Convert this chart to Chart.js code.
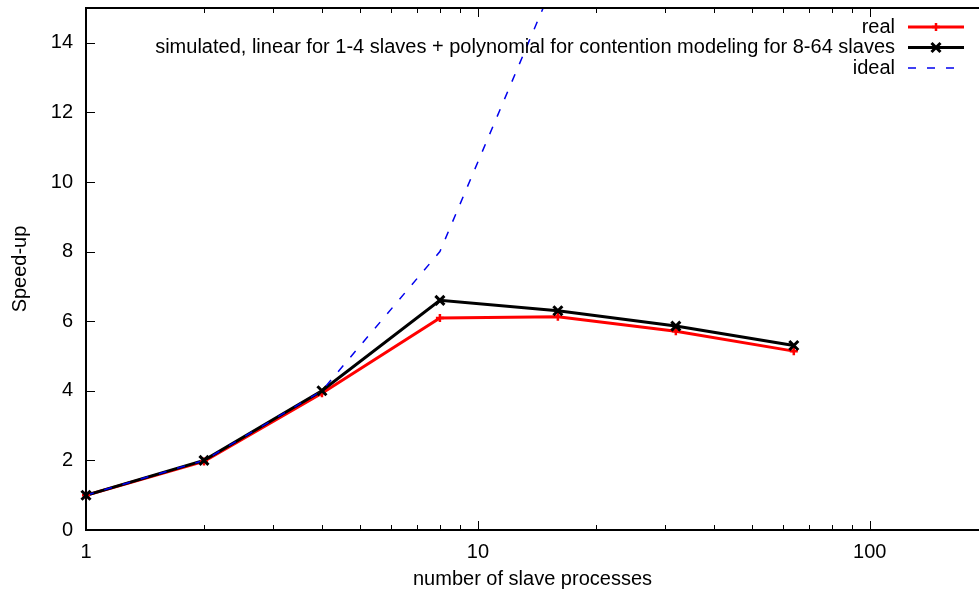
<!DOCTYPE html>
<html>
<head>
<meta charset="utf-8">
<script src="https://cdn.jsdelivr.net/npm/chart.js@4/dist/chart.umd.min.js"></script>
<style>
  html, body { margin: 0; padding: 0; background: #fff; }
  #wrap { width: 979px; height: 591px; }
</style>
</head>
<body>
<div id="wrap"><canvas id="c"></canvas></div>
<script>
// speed-up vs. number of slave processes (log x)
const slaves = [1, 2, 4, 8, 16, 32, 64];
const realSpeedup = [1, 1.97, 3.93, 6.09, 6.13, 5.71, 5.14];
const simSpeedup = [1, 2.0, 4.0, 6.6, 6.3, 5.86, 5.3];
const idealSpeedup = [1, 2, 4, 8, 16, 32, 64];
const yTicks = [0, 2, 4, 6, 8, 10, 12, 14];
const xTicks = [1, 10, 100];

const FONT = "'Liberation Sans', Arial, Helvetica, sans-serif";
const FS = 20;
const pts = (ys) => slaves.map((x, i) => ({ x, y: ys[i] }));

const legendItems = [
  { label: "real", color: "#ff0000", width: 3, dash: [], marker: "plus" },
  { label: "simulated, linear for 1-4 slaves + polynomial for contention modeling for 8-64 slaves", color: "#000000", width: 3, dash: [], marker: "x" },
  { label: "ideal", color: "#0000ee", width: 1.5, dash: [8, 11], marker: null },
];

function drawMarker(ctx, kind, x, y, color) {
  ctx.save();
  ctx.strokeStyle = color;
  ctx.setLineDash([]);
  if (kind === "plus") {
    ctx.lineWidth = 2.5;
    ctx.beginPath();
    ctx.moveTo(x - 4, y); ctx.lineTo(x + 4, y);
    ctx.moveTo(x, y - 4); ctx.lineTo(x, y + 4);
    ctx.stroke();
  } else if (kind === "x") {
    ctx.lineWidth = 3;
    ctx.beginPath();
    ctx.moveTo(x - 4.5, y - 4.5); ctx.lineTo(x + 4.5, y + 4.5);
    ctx.moveTo(x + 4.5, y - 4.5); ctx.lineTo(x - 4.5, y + 4.5);
    ctx.stroke();
  }
  ctx.restore();
}

// gnuplot-style frame: border, inward ticks, key in top right
const frame = {
  id: "frame",
  afterDraw(chart) {
    const { ctx, chartArea: a, scales } = chart;
    const xs = scales.x, ys = scales.y;
    ctx.save();
    ctx.strokeStyle = "#000";
    ctx.lineWidth = 2;
    ctx.beginPath();
    ctx.moveTo(a.right + 5, a.top); ctx.lineTo(a.left, a.top);
    ctx.lineTo(a.left, a.bottom); ctx.lineTo(a.right + 5, a.bottom);
    ctx.stroke();

    ctx.lineWidth = 1;
    ctx.beginPath();
    yTicks.forEach((v) => {
      const py = Math.round(ys.getPixelForValue(v)) + 0.5;
      ctx.moveTo(a.left, py); ctx.lineTo(a.left + 9, py);
    });
    for (let dec = 1; dec <= 100; dec *= 10) {
      for (let m = 1; m <= 9; m++) {
        const v = dec * m;
        if (v > xs.max) break;
        const px = Math.round(xs.getPixelForValue(v)) + 0.5;
        const len = m === 1 ? 9 : 5;
        ctx.moveTo(px, a.bottom); ctx.lineTo(px, a.bottom - len);
        ctx.moveTo(px, a.top); ctx.lineTo(px, a.top + len);
      }
    }
    ctx.stroke();

    // key
    ctx.font = FS + "px " + FONT;
    ctx.textAlign = "right";
    ctx.textBaseline = "middle";
    legendItems.forEach((it, i) => {
      const y = 27 + i * 20.5;
      ctx.fillStyle = "#000";
      ctx.fillText(it.label, 895, y);
      ctx.strokeStyle = it.color;
      ctx.lineWidth = it.width;
      ctx.setLineDash(it.dash);
      ctx.beginPath();
      ctx.moveTo(908, y); ctx.lineTo(964, y);
      ctx.stroke();
      ctx.setLineDash([]);
      if (it.marker) drawMarker(ctx, it.marker, 936, y, it.color);
    });
    ctx.restore();
  },
};

// point markers drawn on top of the lines
const markers = {
  id: "markers",
  afterDatasetsDraw(chart) {
    const { ctx, chartArea: a } = chart;
    ctx.save();
    ctx.beginPath();
    ctx.rect(a.left - 6, a.top, a.right - a.left + 12, a.bottom - a.top + 6);
    ctx.clip();
    [[0, "plus", "#ff0000"], [1, "x", "#000000"]].forEach(([di, kind, color]) => {
      chart.getDatasetMeta(di).data.forEach((p) => drawMarker(ctx, kind, p.x, p.y, color));
    });
    ctx.restore();
  },
};

new Chart(document.getElementById("c"), {
  type: "line",
  data: {
    datasets: [
      { label: "real", data: pts(realSpeedup), borderColor: "#ff0000", borderWidth: 3, pointRadius: 0, order: 2 },
      { label: "simulated", data: pts(simSpeedup), borderColor: "#000000", borderWidth: 3, pointRadius: 0, order: 1 },
      { label: "ideal", data: pts(idealSpeedup), borderColor: "#0000ee", borderWidth: 1.5, borderDash: [8, 11], pointRadius: 0, order: 0 },
    ],
  },
  options: {
    responsive: true,
    maintainAspectRatio: false,
    animation: false,
    layout: { padding: { top: 8, right: 0, left: 0, bottom: 0 } },
    plugins: { legend: { display: false }, tooltip: { enabled: false } },
    scales: {
      x: {
        type: "logarithmic",
        min: 1,
        max: 190,
        grid: { display: false, drawTicks: false },
        border: { display: false },
        afterBuildTicks: (s) => { s.ticks = xTicks.map((v) => ({ value: v })); },
        afterFit: (s) => { s.height = 61; s.paddingLeft = 0; s.paddingRight = 0; },
        ticks: {
          color: "#000",
          font: { family: FONT, size: FS },
          padding: 10,
          maxRotation: 0,
          autoSkip: false,
          callback: (v) => String(v),
        },
        title: { display: true, text: "number of slave processes", color: "#000", font: { family: FONT, size: FS }, padding: { top: 2, bottom: 0 } },
      },
      y: {
        min: 0,
        max: 15,
        grid: { display: false, drawTicks: false },
        border: { display: false },
        afterBuildTicks: (s) => { s.ticks = yTicks.map((v) => ({ value: v })); },
        afterFit: (s) => { s.width = 86; s.paddingTop = 0; s.paddingBottom = 0; },
        ticks: { color: "#000", font: { family: FONT, size: FS }, padding: 13 },
        title: { display: true, text: "Speed-up", color: "#000", font: { family: FONT, size: FS }, padding: { top: 8, bottom: 0 } },
      },
    },
  },
  plugins: [markers, frame],
});
</script>
</body>
</html>
